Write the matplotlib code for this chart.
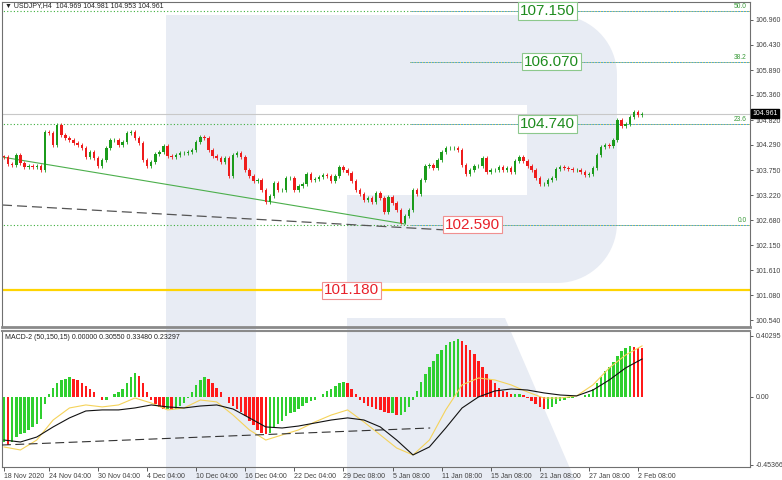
import numpy as np
import matplotlib.pyplot as plt
from matplotlib.patches import Polygon

plt.rcParams['font.family'] = ['Liberation Sans', 'DejaVu Sans']

# ---- data ----
title = '\u25bc USDJPY,H4  104.969 104.981 104.953 104.961'
macd_title = 'MACD-2 (50,150,15) 0.00000 0.30550 0.33480 0.23297'

date_labels = ['18 Nov 2020', '24 Nov 04:00', '30 Nov 04:00', '4 Dec 04:00', '10 Dec 04:00',
               '16 Dec 04:00', '22 Dec 04:00', '29 Dec 08:00', '5 Jan 08:00', '11 Jan 08:00',
               '15 Jan 08:00', '21 Jan 08:00', '27 Jan 08:00', '2 Feb 08:00']
date_bars = [0, 11, 23, 35, 47, 59, 71, 83, 95, 107, 119, 131, 143, 155]

first_open = 104.050
closes = [
    104.032, 103.883, 103.861, 104.075, 103.904, 103.819, 103.840, 103.819, 103.840, 103.754,
    104.566, 104.545, 104.289, 104.716, 104.502, 104.438, 104.396, 104.331, 104.289, 104.225,
    104.032, 104.139, 104.011, 103.840, 103.968, 104.225, 104.396, 104.396, 104.289, 104.353,
    104.545, 104.566, 104.438, 104.331, 103.968, 103.840, 103.925, 104.096, 104.139, 104.267,
    104.054, 104.032, 104.075, 104.118, 104.118, 104.139, 104.182, 104.353, 104.460, 104.438,
    104.182, 104.054, 104.011, 103.925, 104.011, 103.626, 104.075, 104.118, 104.032, 103.754,
    103.626, 103.520, 103.541, 103.327, 103.071, 103.199, 103.477, 103.327, 103.327, 103.584,
    103.584, 103.327, 103.413, 103.455, 103.669, 103.541, 103.562, 103.605, 103.648, 103.626,
    103.520, 103.626, 103.819, 103.754, 103.690, 103.520, 103.327, 103.242, 103.114, 103.156,
    103.071, 103.263, 103.156, 102.857, 103.178, 103.049, 102.900, 102.630, 102.772, 102.900,
    103.327, 103.242, 103.541, 103.840, 103.861, 103.797, 103.968, 104.139, 104.225, 104.225,
    104.225, 104.182, 103.861, 103.669, 103.754, 103.840, 103.840, 104.011, 103.712, 103.754,
    103.754, 103.819, 103.754, 103.797, 103.712, 103.947, 104.032, 103.947, 103.840, 103.754,
    103.584, 103.455, 103.455, 103.541, 103.584, 103.776, 103.819, 103.797, 103.776, 103.754,
    103.754, 103.712, 103.648, 103.669, 103.797, 104.075, 104.246, 104.289, 104.267, 104.396,
    104.823, 104.695, 104.737, 104.887, 104.994, 104.930, 104.961]

hist = [
    -0.30, -0.32, -0.30, -0.27, -0.25, -0.24, -0.22, -0.20, -0.18, -0.15,
    -0.05, 0.02, 0.06, 0.09, 0.11, 0.12, 0.13, 0.12, 0.11, 0.09,
    0.07, 0.05, 0.03, 0.00, -0.02, -0.02, 0.00, 0.02, 0.03, 0.05,
    0.09, 0.13, 0.16, 0.14, 0.09, 0.03, -0.02, -0.05, -0.07, -0.08,
    -0.08, -0.09, -0.08, -0.06, -0.04, -0.01, 0.03, 0.08, 0.11, 0.13,
    0.12, 0.09, 0.06, 0.03, 0.00, -0.04, -0.06, -0.08, -0.10, -0.13,
    -0.16, -0.19, -0.22, -0.24, -0.25, -0.24, -0.21, -0.18, -0.16, -0.13,
    -0.11, -0.10, -0.08, -0.06, -0.04, -0.03, -0.02, 0.00, 0.02, 0.04,
    0.05, 0.07, 0.09, 0.10, 0.09, 0.05, 0.02, -0.02, -0.04, -0.06,
    -0.07, -0.08, -0.09, -0.10, -0.11, -0.11, -0.12, -0.12, -0.10, -0.07,
    -0.02, 0.04, 0.10, 0.15, 0.20, 0.24, 0.28, 0.31, 0.34, 0.36,
    0.37, 0.38, 0.37, 0.34, 0.31, 0.28, 0.24, 0.20, 0.15, 0.12,
    0.09, 0.06, 0.04, 0.03, 0.02, 0.02, 0.02, 0.01, -0.01, -0.03,
    -0.05, -0.07, -0.08, -0.08, -0.07, -0.05, -0.03, -0.02, -0.01, -0.01,
    0.00, 0.00, 0.01, 0.02, 0.05, 0.09, 0.13, 0.17, 0.20, 0.23,
    0.27, 0.30, 0.32, 0.335, 0.33, 0.325, 0.32]

line_bars = list(range(0, 157, 4))
signal = [-0.288, -0.301, -0.268, -0.201, -0.141, -0.095, -0.088, -0.088, -0.075, -0.055,
          -0.068, -0.075, -0.062, -0.055, -0.082, -0.141, -0.201, -0.208, -0.195, -0.175,
          -0.155, -0.141, -0.155, -0.201, -0.288, -0.387, -0.334, -0.208, -0.075, -0.002,
          0.038, 0.051, 0.044, 0.025, 0.011, 0.005, 0.044, 0.111, 0.191, 0.250]
macd_line = [-0.334, -0.354, -0.288, -0.155, -0.075, -0.055, -0.068, -0.055, -0.009, -0.042,
             -0.088, -0.075, -0.022, -0.035, -0.122, -0.221, -0.288, -0.254, -0.221, -0.168,
             -0.122, -0.088, -0.168, -0.254, -0.341, -0.387, -0.288, -0.088, 0.078, 0.124,
             0.111, 0.078, 0.031, -0.009, -0.009, 0.005, 0.078, 0.191, 0.277, 0.337]

fib_levels = [107.150, 106.070, 104.740, 102.590]
fib_names = ['50.0', '38.2', '23.6', '0.0']
fib_label_bar = [126.2, 127.2, 126.2, 107.8]
support = 101.180
support_label_bar = 78.2
bid = 104.961

trend_green_x = [-0.5, 98.0]
trend_green_y = [104.032, 102.601]
trend_dash_x = [-0.5, 121.3]
trend_dash_y = [103.007, 102.408]
macd_dash_x = [-0.5, 104.2]
macd_dash_y = [-0.321, -0.208]

price_ticks = [106.960, 106.430, 105.890, 105.360, 104.820, 104.290, 103.750,
               103.220, 102.680, 102.150, 101.610, 101.080, 100.540]
macd_ticks = [0.40295, 0.0, -0.45366]

# ---- figure ----
fig = plt.figure(figsize=(7.82, 4.8), dpi=100)
fig.patch.set_facecolor('white')

# watermark "R" in pixel coordinates
bg = fig.add_axes([0, 0, 1, 1])
bg.set_xlim(0, 782)
bg.set_ylim(480, 0)
bg.axis('off')
wm = '#e8ecf4'
t = np.linspace(0, np.pi / 2, 20)
top_arc = np.column_stack([557 + 60 * np.sin(t), 75 - 60 * np.cos(t)])
bot_arc = np.column_stack([617 - 60 * (1 - np.cos(t)), 223 + 60 * np.sin(t)])
outline = np.vstack([[[166, 15]], top_arc, bot_arc,
                     [[347, 283], [347, 195], [527, 195], [527, 105], [256, 105],
                      [256, 480], [166, 480]]])
bg.add_patch(Polygon(outline, closed=True, fc=wm, ec='none'))
bg.add_patch(Polygon([[347, 318], [505, 318], [575, 480], [347, 480]], closed=True, fc=wm, ec='none'))

L, R = 2 / 782, 748 / 782
ax = fig.add_axes([L, (480 - 327) / 480, R, 325 / 480])
mx = fig.add_axes([L, (480 - 467) / 480, R, 136 / 480], sharex=ax)
for a in (ax, mx):
    a.set_facecolor('none')
    for s in a.spines.values():
        s.set_color('#707070')
        s.set_linewidth(0.8)
ax.spines['bottom'].set_linewidth(2.0)
ax.spines['bottom'].set_color('#8a8a8a')
mx.spines['top'].set_linewidth(1.5)
mx.spines['top'].set_color('#8a8a8a')

n = len(closes)
idx = np.arange(n)
opens = np.array([first_open] + closes[:-1])
cl = np.array(closes)
up = cl >= opens
lo = np.minimum(opens, cl)
hi = np.maximum(opens, cl)
colors = np.where(up, '#1b9b1b', '#ee1c1c')
ax.vlines(idx, lo - 0.035, hi + 0.035, colors=colors, lw=0.6, zorder=3)
ax.bar(idx, np.maximum(hi - lo, 0.006), bottom=lo, width=0.6, color=colors, lw=0, zorder=4)

# levels
x_split = 99.3
for lev, name, lb in zip(fib_levels, fib_names, fib_label_bar):
    if name != '38.2':
        ax.plot([-1, x_split], [lev, lev], color='#3cae3c', lw=0.8, ls=(0, (1, 2)), zorder=2)
    ax.plot([x_split, 190], [lev, lev], color='#4aa6d0', lw=0.7, zorder=2)
    ax.plot([x_split, 190], [lev, lev], color='#f2d64a', lw=0.7, ls=(0, (1, 2)), zorder=2)
    ax.text(0.996, lev + 0.015, name, transform=ax.get_yaxis_transform(), ha='right', va='bottom',
            fontsize=4.8, color='#3a9a3a')
    col, ec = ('#1e8c1e', '#8cc88c') if name != '0.0' else ('#e8202a', '#f09090')
    ax.text(lb, lev, f'{lev:.3f}', ha='left', va='center', fontsize=11, color=col, zorder=6,
            bbox=dict(boxstyle='square,pad=0.12', fc='white', ec=ec, lw=0.8))

ax.axhline(bid, color='#c8c8c8', lw=0.8, zorder=1)
ax.axhline(support, color='#ffd400', lw=1.6, zorder=2)
ax.text(support_label_bar, support, f'{support:.3f}', ha='left', va='center', fontsize=11,
        color='#e8202a', zorder=6, bbox=dict(boxstyle='square,pad=0.12', fc='white', ec='#f09090', lw=0.8))

ax.plot(trend_green_x, trend_green_y, color='#4caf4c', lw=0.8, zorder=2)
ax.plot(trend_dash_x, trend_dash_y, color='#555555', lw=0.9, ls=(0, (8, 4)), zorder=2)

ax.set_xlim(-0.5, 182.4)
ax.set_ylim(100.400, 107.344)
ax.yaxis.tick_right()
ax.set_yticks(price_ticks)
ax.set_yticklabels([f'{v:.3f}' for v in price_ticks])
ax.tick_params(axis='y', labelsize=5, length=2.5, width=0.6, pad=1.5, colors='#404040')
ax.tick_params(axis='x', bottom=False, labelbottom=False)
ax.text(1.003, bid, f'{bid:.3f}', transform=ax.get_yaxis_transform(), ha='left', va='center',
        fontsize=5, color='white', bbox=dict(boxstyle='square,pad=0.2', fc='black', ec='black'))
ax.text(0.004, 0.99, title, transform=ax.transAxes, ha='left', va='center', fontsize=5, color='#222222')

# MACD panel
hcol = ['#2fcf2f' if (i == 0 or hist[i] >= hist[i - 1]) else '#ff1a1a' for i in range(n)]
mx.bar(idx, hist, width=0.6, color=hcol, lw=0, zorder=3)
mx.plot(line_bars, macd_line, color='#f5d35a', lw=0.8, zorder=4)
mx.plot(line_bars, signal, color='#111111', lw=0.8, zorder=5)
mx.plot(macd_dash_x, macd_dash_y, color='#333333', lw=0.8, ls=(0, (8, 4)), zorder=4)
mx.set_ylim(-0.467, 0.436)
mx.yaxis.tick_right()
mx.set_yticks(macd_ticks)
mx.set_yticklabels(['0.40295', '0.00', '-0.45366'])
mx.tick_params(axis='y', labelsize=5, length=2.5, width=0.6, pad=1.5, colors='#404040')
mx.set_xticks(date_bars)
mx.set_xticklabels(date_labels)
mx.tick_params(axis='x', labelsize=5, length=3, width=0.6, pad=1.5, colors='#404040')
for lbl in mx.get_xticklabels():
    lbl.set_ha('left')
mx.text(0.004, 0.955, macd_title, transform=mx.transAxes, ha='left', va='center', fontsize=5, color='#222222')

fig.savefig('out.png', dpi=100)
